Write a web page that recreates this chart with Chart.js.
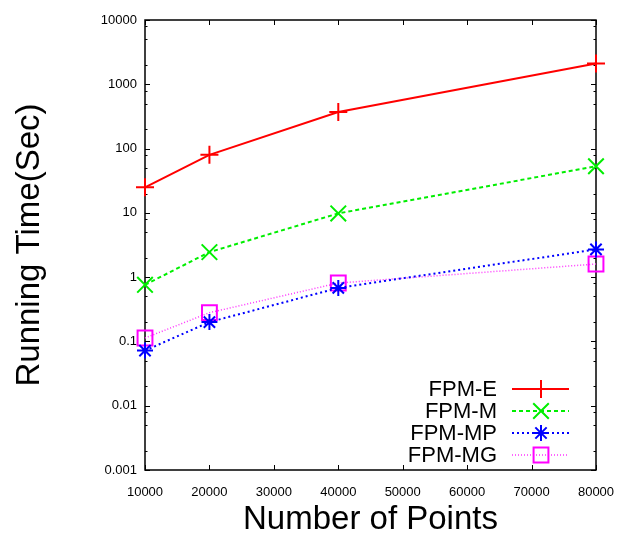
<!DOCTYPE html>
<html>
<head>
<meta charset="utf-8">
<script src="https://cdn.jsdelivr.net/npm/chart.js@4.4.1/dist/chart.umd.min.js"></script>
<style>
  html, body { margin: 0; padding: 0; background: #fff; }
  canvas { display: block; }
</style>
</head>
<body>
<canvas id="runChart" width="619" height="540"></canvas>
<script>
// values
var pointCounts = [10000, 20000, 40000, 80000];
var fpmE  = [25, 80, 370, 2100];
var fpmM  = [0.76, 2.45, 9.8, 53];
var fpmMP = [0.072, 0.2, 0.68, 2.7];
var fpmMG = [0.113, 0.28, 0.81, 1.6];
var seriesNames = ["FPM-E", "FPM-M", "FPM-MP", "FPM-MG"];
var yTicks = [0.001, 0.01, 0.1, 1, 10, 100, 1000, 10000];
var yMinor = [2, 5, 8];
var xTicks = [10000, 20000, 30000, 40000, 50000, 60000, 70000, 80000];

var FONT = "'Liberation Sans', Arial, Helvetica, sans-serif";

function toPoints(ys) {
    return pointCounts.map(function (x, i) { return { x: x, y: ys[i] }; });
}

// box + inward tick marks like gnuplot
var framePlugin = {
    id: 'frame',
    beforeDatasetsDraw: function (chart) {
        var ctx = chart.ctx;
        var a = chart.chartArea;
        var xs = chart.scales.x, ys = chart.scales.y;
        ctx.save();
        ctx.strokeStyle = '#000';
        ctx.lineWidth = 1;
        ctx.beginPath();
        xTicks.forEach(function (v) {
            var px = Math.round(xs.getPixelForValue(v)) + 0.5;
            ctx.moveTo(px, a.bottom); ctx.lineTo(px, a.bottom - 5);
            ctx.moveTo(px, a.top); ctx.lineTo(px, a.top + 5);
        });
        yTicks.forEach(function (v, i) {
            var py = Math.round(ys.getPixelForValue(v)) + 0.5;
            ctx.moveTo(a.left, py); ctx.lineTo(a.left + 5, py);
            ctx.moveTo(a.right, py); ctx.lineTo(a.right - 5, py);
            if (i < yTicks.length - 1) {
                yMinor.forEach(function (m) {
                    var my = Math.round(ys.getPixelForValue(v * m)) + 0.5;
                    ctx.moveTo(a.left, my); ctx.lineTo(a.left + 2.5, my);
                    ctx.moveTo(a.right, my); ctx.lineTo(a.right - 2.5, my);
                });
            }
        });
        ctx.stroke();
        ctx.lineWidth = 1.5;
        ctx.strokeRect(a.left, a.top, a.right - a.left, a.bottom - a.top);
        ctx.restore();
    }
};

// key in the lower right corner: label, then line sample with marker
var keyPlugin = {
    id: 'key',
    afterDraw: function (chart) {
        var ctx = chart.ctx;
        var a = chart.chartArea;
        var textRight = a.right - 99;
        var lineStart = a.right - 84;
        var lineEnd = a.right - 27;
        var markX = a.right - 55;
        var rowY = a.bottom - 81;
        ctx.save();
        ctx.font = '22px ' + FONT;
        ctx.textAlign = 'right';
        ctx.textBaseline = 'middle';
        chart.data.datasets.forEach(function (ds, i) {
            var y = rowY + i * 22;
            ctx.fillStyle = '#000';
            ctx.fillText(ds.label, textRight, y + 1);
            ctx.strokeStyle = ds.borderColor;
            ctx.lineWidth = ds.borderWidth;
            ctx.setLineDash(ds.borderDash || []);
            ctx.beginPath();
            ctx.moveTo(lineStart, y);
            ctx.lineTo(lineEnd, y);
            ctx.stroke();
            ctx.setLineDash([]);
            ctx.strokeStyle = ds.pointBorderColor;
            ctx.lineWidth = ds.pointBorderWidth;
            ctx.fillStyle = 'rgba(0,0,0,0)';
            Chart.helpers.drawPoint(ctx, {
                pointStyle: ds.pointStyle,
                radius: ds.pointRadius,
                rotation: 0,
                borderWidth: ds.pointBorderWidth
            }, markX, y);
        });
        ctx.restore();
    }
};

var ctx = document.getElementById('runChart').getContext('2d');
var runChart = new Chart(ctx, {
    type: 'line',
    data: {
        datasets: [
            {
                label: seriesNames[0],
                data: toPoints(fpmE),
                borderColor: '#ff0000',
                backgroundColor: 'rgba(0,0,0,0)',
                borderWidth: 2,
                pointStyle: 'cross',
                pointRadius: 9,
                pointBorderWidth: 2,
                pointBorderColor: '#ff0000',
                clip: false
            },
            {
                label: seriesNames[1],
                data: toPoints(fpmM),
                borderColor: '#00ee00',
                backgroundColor: 'rgba(0,0,0,0)',
                borderWidth: 2,
                borderDash: [4, 3],
                pointStyle: 'crossRot',
                pointRadius: 11,
                pointBorderWidth: 2,
                pointBorderColor: '#00ee00',
                clip: false
            },
            {
                label: seriesNames[2],
                data: toPoints(fpmMP),
                borderColor: '#0000ff',
                backgroundColor: 'rgba(0,0,0,0)',
                borderWidth: 2,
                borderDash: [2, 3],
                pointStyle: 'star',
                pointRadius: 8,
                pointBorderWidth: 2,
                pointBorderColor: '#0000ff',
                clip: false
            },
            {
                label: seriesNames[3],
                data: toPoints(fpmMG),
                borderColor: '#ff33ff',
                backgroundColor: 'rgba(0,0,0,0)',
                borderWidth: 1.5,
                borderDash: [1, 2],
                pointStyle: 'rect',
                pointRadius: 10.5,
                pointBorderWidth: 2,
                pointBorderColor: '#ff00ff',
                pointBackgroundColor: 'rgba(0,0,0,0)',
                clip: false
            }
        ]
    },
    options: {
        responsive: false,
        animation: false,
        layout: { padding: { top: 20, right: 23, left: 0, bottom: 0 } },
        plugins: {
            legend: { display: false },
            tooltip: { enabled: false }
        },
        elements: { line: { tension: 0 } },
        scales: {
            x: {
                type: 'linear',
                min: 10000,
                max: 80000,
                grid: { display: false, drawTicks: false },
                border: { display: false },
                afterBuildTicks: function (scale) {
                    scale.ticks = xTicks.map(function (v) { return { value: v }; });
                },
                ticks: {
                    color: '#000',
                    padding: 15,
                    maxRotation: 0,
                    font: { family: FONT, size: 13 },
                    callback: function (value) { return String(value); }
                },
                title: {
                    display: true,
                    text: 'Number of Points',
                    color: '#000',
                    font: { family: FONT, size: 33 },
                    padding: { top: 0, bottom: 0 }
                },
                afterFit: function (scale) {
                    scale.height = 70;
                    scale.paddingLeft = 0;
                    scale.paddingRight = 0;
                }
            },
            y: {
                type: 'logarithmic',
                min: 0.001,
                max: 10000,
                grid: { display: false, drawTicks: false },
                border: { display: false },
                afterBuildTicks: function (scale) {
                    scale.ticks = yTicks.map(function (v) { return { value: v }; });
                },
                ticks: {
                    color: '#000',
                    padding: 8,
                    font: { family: FONT, size: 13 },
                    callback: function (value) { return String(value); }
                },
                title: {
                    display: true,
                    text: 'Running Time(Sec)',
                    color: '#000',
                    font: { family: FONT, size: 33 },
                    padding: { top: 10, bottom: 0 }
                },
                afterFit: function (scale) {
                    scale.width = 145;
                    scale.paddingTop = 0;
                    scale.paddingBottom = 0;
                }
            }
        }
    },
    plugins: [framePlugin, keyPlugin]
});
</script>
</body>
</html>
